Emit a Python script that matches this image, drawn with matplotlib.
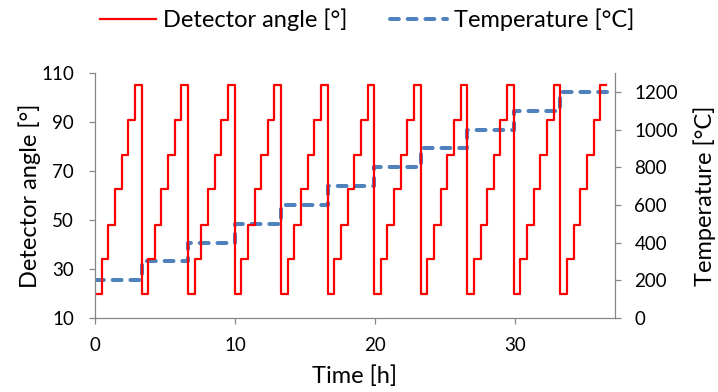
import matplotlib
matplotlib.use("Agg")
import matplotlib.pyplot as plt
import numpy as np

plt.rcParams['font.family'] = ['Lato', 'DejaVu Sans']

# ---- data ----
cycle_starts = [0.0, 3.32, 6.64, 9.96, 13.28, 16.60, 19.92, 23.24, 26.56, 29.88, 33.20]   # h
angle_levels = [20, 34, 48, 62.5, 76.5, 91, 105]   # degrees, one plateau each
plateau_hours = 0.474                                # duration of each plateau
angle_end_time = 36.49

temp_values = [200, 300, 400, 500, 600, 700, 800, 900, 1000, 1100, 1200]   # °C
temp_end_time = 36.6

x_ticks = [0, 10, 20, 30]
left_ticks = [10, 30, 50, 70, 90, 110]
right_ticks = [0, 200, 400, 600, 800, 1000, 1200]

# ---- build step series ----
t_angle, v_angle = [], []
for c in cycle_starts:
    for k, lvl in enumerate(angle_levels):
        t_angle.append(c + k * plateau_hours)
        v_angle.append(lvl)
t_angle.append(angle_end_time)
v_angle.append(angle_levels[-1])

t_temp = list(cycle_starts) + [temp_end_time]
v_temp = list(temp_values) + [temp_values[-1]]

GRAY = '#868686'
RED = '#FF0000'
BLUE = '#4F81BD'
TICK_FS = 13.5
LABEL_FS = 17

fig = plt.figure(figsize=(7.18, 3.92), dpi=100)
ax = fig.add_axes([95/718, 1-318/392, (615-95)/718, (318-73)/392])
ax2 = ax.twinx()

l1, = ax.step(t_angle, v_angle, where='post', color=RED, lw=1.6, label='Detector angle [°]')
l2, = ax2.step(t_temp, v_temp, where='post', color=BLUE, lw=2.9,
               dashes=(2.2, 2.2), dash_capstyle='round', label='Temperature [°C]')
ax.set_zorder(ax2.get_zorder() + 1)
ax.patch.set_visible(False)

ax.set_xlim(0, 37.1)
ax.set_ylim(10, 110)
ax2.set_ylim(0, 1300)
ax.set_xticks(x_ticks)
ax.set_yticks(left_ticks)
ax2.set_yticks(right_ticks)

for a in (ax, ax2):
    a.spines['top'].set_visible(False)
    for s in ('left', 'right', 'bottom'):
        a.spines[s].set_color(GRAY)
        a.spines[s].set_linewidth(0.9)
    a.tick_params(axis='both', colors=GRAY, labelcolor='black', labelsize=TICK_FS,
                  length=4.5, width=0.9, direction='out')
ax.spines['right'].set_visible(False)
ax2.spines['left'].set_visible(False)
ax2.spines['bottom'].set_visible(False)
ax.tick_params(axis='x', pad=9)
ax.tick_params(axis='y', pad=10.5)
ax2.tick_params(axis='y', pad=9.5)

ax.set_xlabel('Time [h]', fontsize=LABEL_FS, labelpad=8.5)
ax.set_ylabel('Detector angle [°]', fontsize=LABEL_FS, labelpad=0.5)
ax2.set_ylabel('Temperature [°C]', fontsize=LABEL_FS, labelpad=11)

fig.legend(handles=[l1, l2], loc='center', bbox_to_anchor=(367/718, 1-20/392),
           ncol=2, frameon=False, fontsize=LABEL_FS, handlelength=2.4,
           handletextpad=0.3, columnspacing=1.8)

fig.savefig('out.png', dpi=100)
